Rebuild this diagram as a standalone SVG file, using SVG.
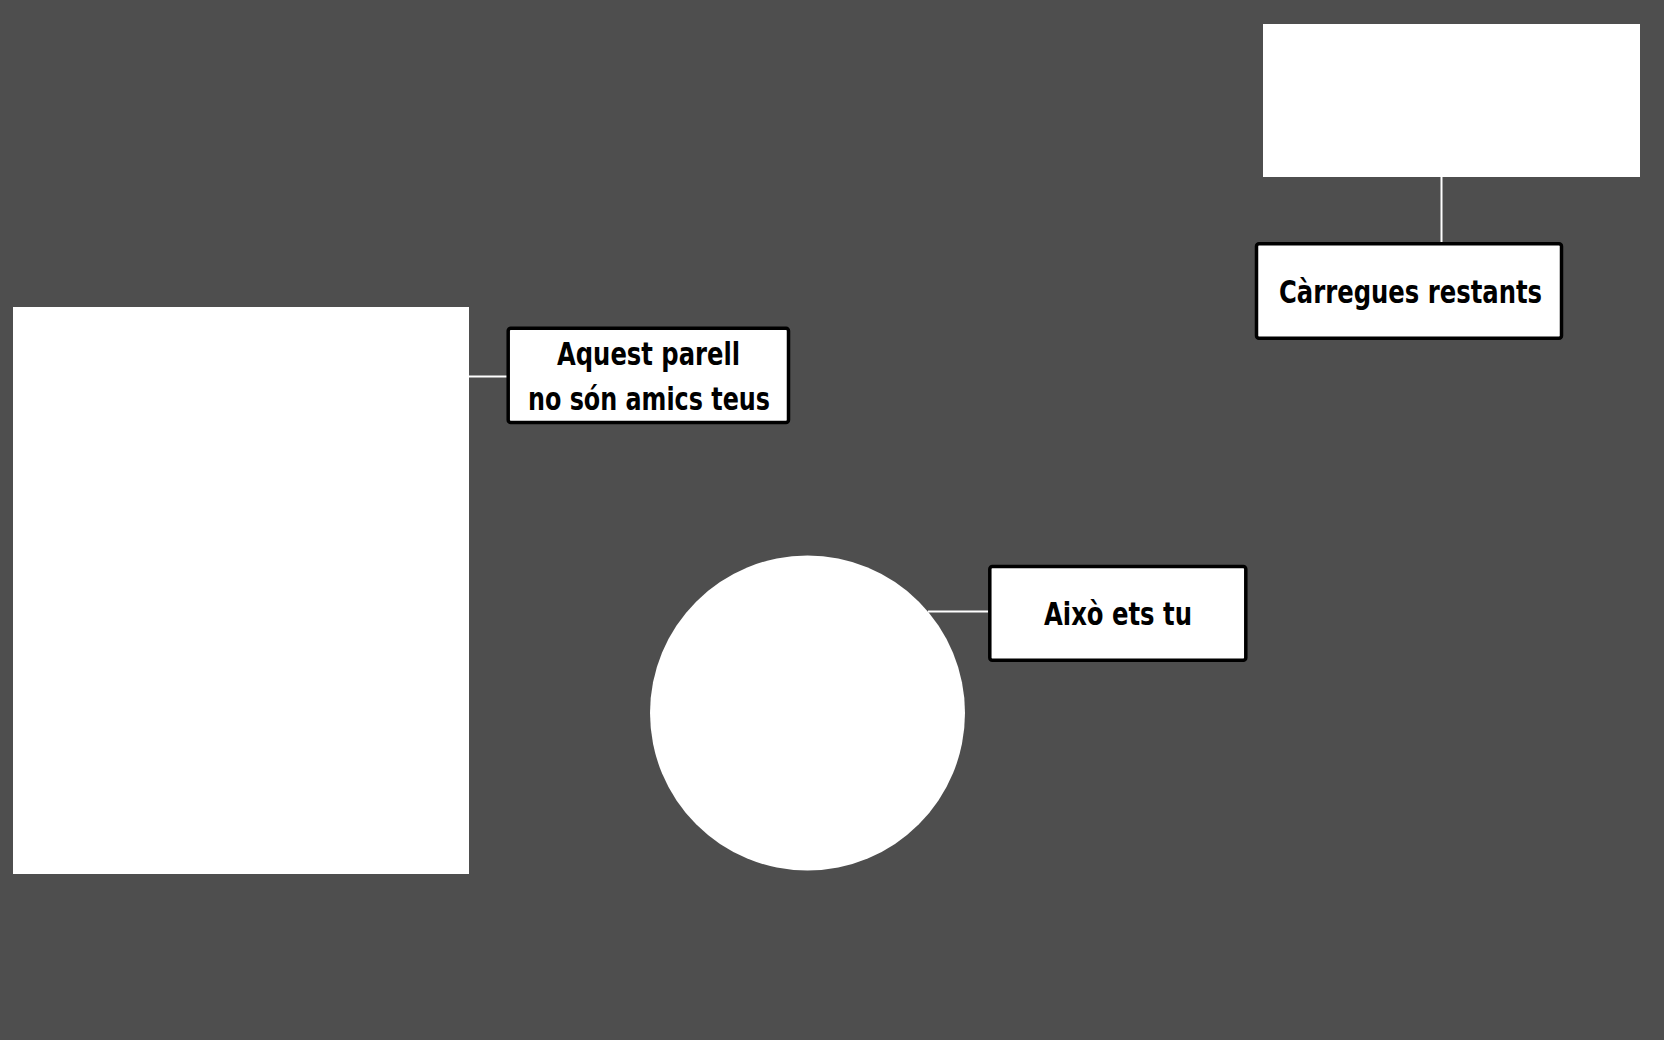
<svg xmlns="http://www.w3.org/2000/svg" width="1664" height="1040" viewBox="0 0 1664 1040">
<style>
.shape{fill:#ffffff}
.label rect{fill:#ffffff;stroke:#000000;stroke-width:3.5}
.label text{font-family:"DejaVu Sans Condensed","DejaVu Sans",sans-serif;font-weight:bold;font-size:32px;fill:#000000;text-anchor:middle}
.conn line{stroke:#ffffff;stroke-width:2}
</style>
<rect x="0" y="0" width="1664" height="1040" fill="#4e4e4e"/>
<g id="connectors" class="conn">
<line x1="1441.5" y1="177" x2="1441.5" y2="244"/>
<line x1="469" y1="376.5" x2="508" y2="376.5"/>
<line x1="928" y1="611.5" x2="989" y2="611.5"/>
</g>
<g id="panel-top-right"><rect class="shape" x="1263" y="24" width="377" height="153"/></g>
<g id="panel-left"><rect class="shape" x="13" y="307" width="456" height="567"/></g>
<g id="player-circle"><circle class="shape" cx="807.5" cy="713" r="157.5"/></g>
<g id="label-charges" class="label">
<rect x="1256.5" y="243.8" width="305" height="94.5" rx="2.5"/>
<text x="1410.5" y="303" textLength="263" lengthAdjust="spacingAndGlyphs">Càrregues restants</text>
</g>
<g id="label-pair" class="label">
<rect x="508.2" y="328.2" width="280.3" height="94.3" rx="2.5"/>
<text x="648.5" y="365" textLength="183" lengthAdjust="spacingAndGlyphs">Aquest parell</text>
<text x="649" y="410" textLength="242" lengthAdjust="spacingAndGlyphs">no són amics teus</text>
</g>
<g id="label-you" class="label">
<rect x="989.8" y="566.5" width="256" height="93.7" rx="2.5"/>
<text x="1118" y="625" textLength="148" lengthAdjust="spacingAndGlyphs">Això ets tu</text>
</g>
</svg>
